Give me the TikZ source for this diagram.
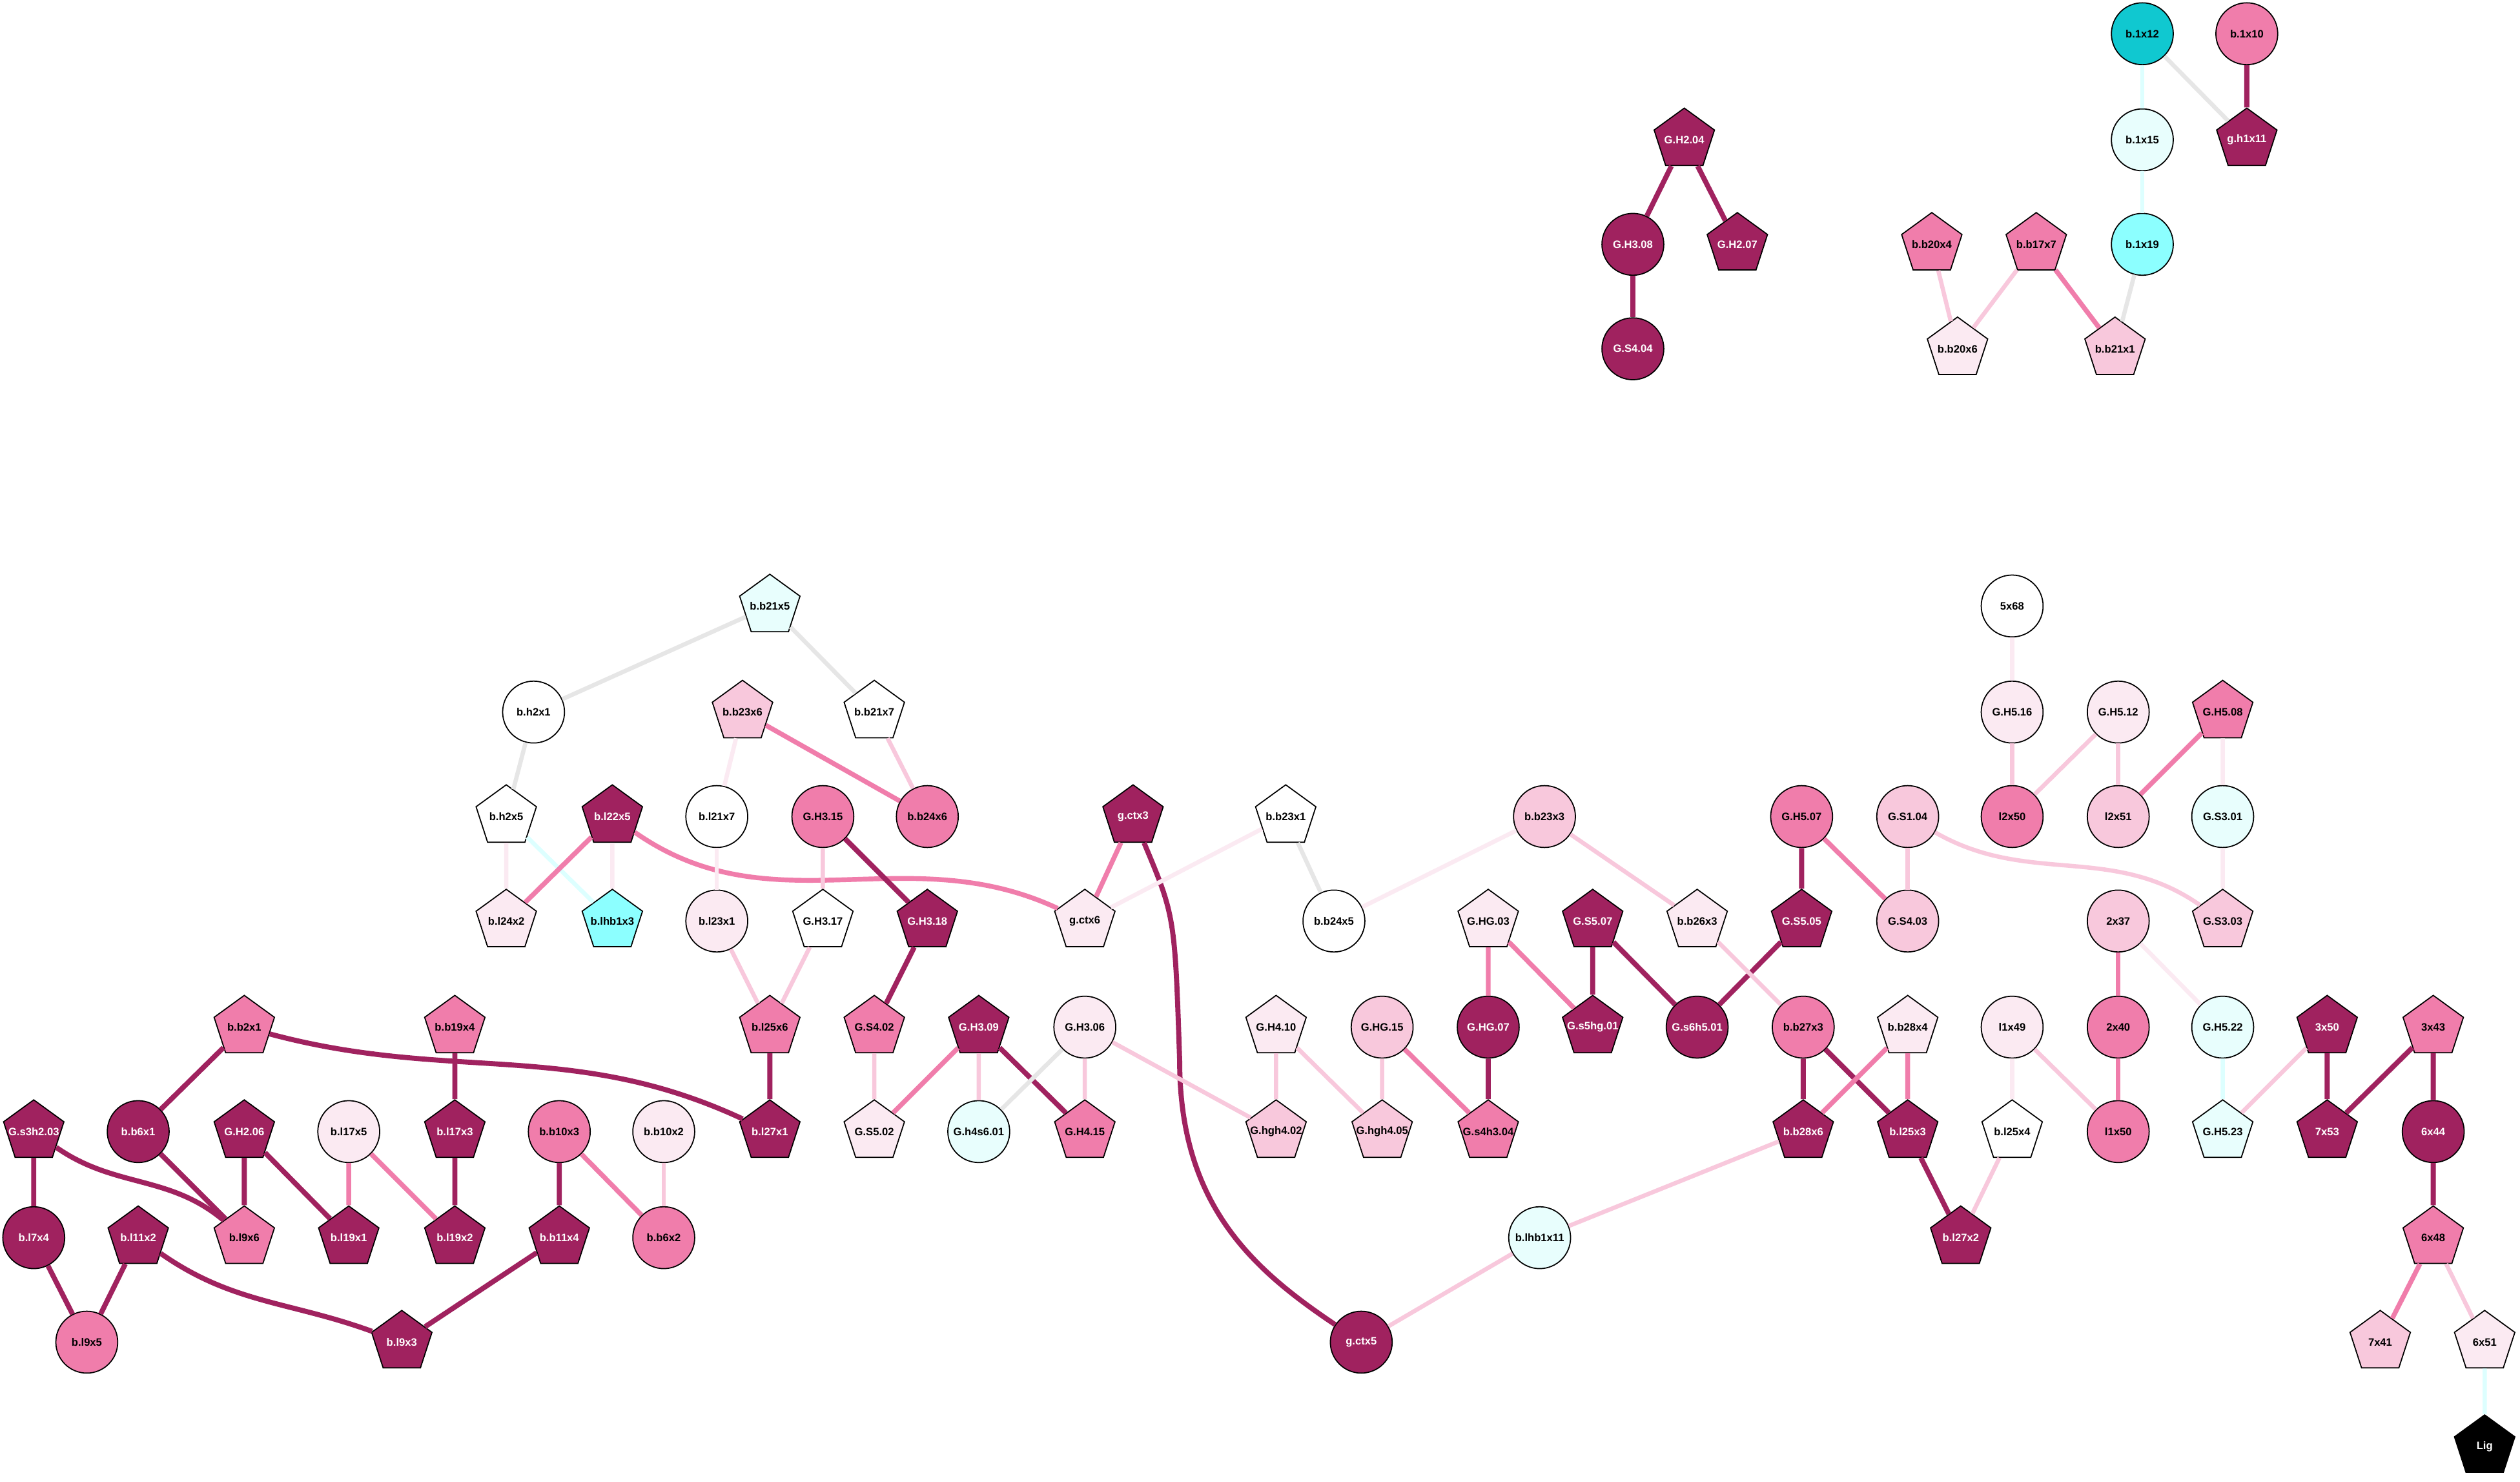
\documentclass[tikz,border=0pt]{standalone}
\usepackage{fontspec}
\setmainfont{Liberation Sans}
\usepackage{tikz}
\usetikzlibrary{shapes.geometric}

\definecolor{cdark}{HTML}{A0225F}
\definecolor{cmid}{HTML}{F07DAB}
\definecolor{clight}{HTML}{F8C8DC}
\definecolor{cvlight}{HTML}{FBEAF2}
\definecolor{ccyan}{HTML}{10C8D0}
\definecolor{ccyanl}{HTML}{8CFFFF}
\definecolor{ccyanvl}{HTML}{E8FEFD}
\definecolor{cgrey}{HTML}{E6E6E6}
\definecolor{ecyan}{HTML}{DDFFFF}

\tikzset{
	lbl/.style={font=\fontsize{3.8}{4}\selectfont\bfseries, inner ysep=0pt, inner xsep=-2.5mm, draw=black, line width=0.4pt},
	circ/.style={lbl, circle, minimum size=0.77cm},
	pent/.style={lbl, regular polygon, regular polygon sides=5, minimum size=0.79cm},
	dk/.style={fill=cdark, text=white},
	md/.style={fill=cmid},
	lt/.style={fill=clight},
	vl/.style={fill=cvlight},
	wh/.style={fill=white},
	cy/.style={fill=ccyan},
	cl/.style={fill=ccyanl},
	cv/.style={fill=ccyanvl},
	e1/.style={draw=cdark, line width=1.8pt},
	e2/.style={draw=cmid, line width=1.7pt},
	e3/.style={draw=clight, line width=1.5pt},
	e4/.style={draw=cvlight, line width=1.5pt},
	eg/.style={draw=cgrey, line width=1.5pt},
	ec/.style={draw=ecyan, line width=1.5pt}
}

\begin{document}
\begin{tikzpicture}[x=0.02cm, y=-0.02cm]
	\fill[white] (0,0) rectangle (1568,922);
	\useasboundingbox (0,0) rectangle (1568,922);

	% top group
	\node[circ, cy] (b1x12) at (1333,21) {b.1x12};
	\node[circ, md] (b1x10) at (1398,21) {b.1x10};
	\node[circ, cv] (b1x15) at (1333,87) {b.1x15};
	\node[pent, dk] (gh1x11) at (1398,87) {g.h1x11};
	\node[circ, cl] (b1x19) at (1333,152) {b.1x19};
	\node[pent, md] (bb20x4) at (1202,152) {b.b20x4};
	\node[pent, md] (bb17x7) at (1267,152) {b.b17x7};
	\node[pent, vl] (bb20x6) at (1218,217) {b.b20x6};
	\node[pent, lt] (bb21x1) at (1316,217) {b.b21x1};
	\node[pent, dk] (gh204) at (1048,87) {G.H2.04};
	\node[circ, dk] (gh308) at (1016,152) {G.H3.08};
	\node[pent, dk] (gh207) at (1081,152) {G.H2.07};
	\node[circ, dk] (gs404) at (1016,217) {G.S4.04};

	% main network
	\node[pent, cv] (bb21x5) at (479,377) {b.b21x5};
	\node[circ, wh] (c5x68) at (1252,377) {5x68};

	\node[circ, wh] (bh2x1) at (332,443) {b.h2x1};
	\node[pent, lt] (bb23x6) at (462,443) {b.b23x6};
	\node[pent, wh] (bb21x7) at (544,443) {b.b21x7};
	\node[circ, vl] (gh516) at (1252,443) {G.H5.16};
	\node[circ, vl] (gh512) at (1318,443) {G.H5.12};
	\node[pent, md] (gh508) at (1383,443) {G.H5.08};

	\node[pent, wh] (bh2x5) at (315,508) {b.h2x5};
	\node[pent, dk] (bl22x5) at (381,508) {b.l22x5};
	\node[circ, wh] (bl21x7) at (446,508) {b.l21x7};
	\node[circ, md] (gh315) at (512,508) {G.H3.15};
	\node[circ, md] (bb24x6) at (577,508) {b.b24x6};
	\node[pent, dk] (gctx3) at (705,508) {g.ctx3};
	\node[pent, wh] (bb23x1) at (800,508) {b.b23x1};
	\node[circ, lt] (bb23x3) at (961,508) {b.b23x3};
	\node[circ, md] (gh507) at (1121,508) {G.H5.07};
	\node[circ, lt] (gs104) at (1187,508) {G.S1.04};
	\node[circ, md] (l2x50) at (1252,508) {l2x50};
	\node[circ, lt] (l2x51) at (1318,508) {l2x51};
	\node[circ, cv] (gs301) at (1383,508) {G.S3.01};

	\node[pent, vl] (bl24x2) at (315,573) {b.l24x2};
	\node[pent, cl] (blhb1x3) at (381,573) {b.lhb1x3};
	\node[circ, vl] (bl23x1) at (446,573) {b.l23x1};
	\node[pent, wh] (gh317) at (512,573) {G.H3.17};
	\node[pent, dk] (gh318) at (577,573) {G.H3.18};
	\node[pent, vl] (gctx6) at (675,573) {g.ctx6};
	\node[circ, wh] (bb24x5) at (830,573) {b.b24x5};
	\node[pent, vl] (ghg03) at (926,573) {G.HG.03};
	\node[pent, dk] (gs507) at (991,573) {G.S5.07};
	\node[pent, vl] (bb26x3) at (1056,573) {b.b26x3};
	\node[pent, dk] (gs505) at (1121,573) {G.S5.05};
	\node[circ, lt] (gs403) at (1187,573) {G.S4.03};
	\node[circ, lt] (c2x37) at (1318,573) {2x37};
	\node[pent, lt] (gs303) at (1383,573) {G.S3.03};

	\node[pent, md] (bb2x1) at (152,639) {b.b2x1};
	\node[pent, md] (bb19x4) at (283,639) {b.b19x4};
	\node[pent, md] (bl25x6) at (479,639) {b.l25x6};
	\node[pent, md] (gs402) at (544,639) {G.S4.02};
	\node[pent, dk] (gh309) at (609,639) {G.H3.09};
	\node[circ, vl] (gh306) at (675,639) {G.H3.06};
	\node[pent, vl] (gh410) at (794,639) {G.H4.10};
	\node[circ, lt] (ghg15) at (860,639) {G.HG.15};
	\node[circ, dk] (ghg07) at (926,639) {G.HG.07};
	\node[pent, dk] (gs5hg01) at (991,639) {G.s5hg.01};
	\node[circ, dk] (gs6h501) at (1056,639) {G.s6h5.01};
	\node[circ, md] (bb27x3) at (1122,639) {b.b27x3};
	\node[pent, vl] (bb28x4) at (1187,639) {b.b28x4};
	\node[circ, vl] (l1x49) at (1252,639) {l1x49};
	\node[circ, md] (c2x40) at (1318,639) {2x40};
	\node[circ, cv] (gh522) at (1383,639) {G.H5.22};
	\node[pent, dk] (c3x50) at (1448,639) {3x50};
	\node[pent, md] (c3x43) at (1514,639) {3x43};

	\node[pent, dk] (gs3h203) at (21,704) {G.s3h2.03};
	\node[circ, dk] (bb6x1) at (86,704) {b.b6x1};
	\node[pent, dk] (gh206) at (152,704) {G.H2.06};
	\node[circ, vl] (bl17x5) at (217,704) {b.l17x5};
	\node[pent, dk] (bl17x3) at (283,704) {b.l17x3};
	\node[circ, md] (bb10x3) at (348,704) {b.b10x3};
	\node[circ, vl] (bb10x2) at (413,704) {b.b10x2};
	\node[pent, dk] (bl27x1) at (479,704) {b.l27x1};
	\node[pent, vl] (gs502) at (544,704) {G.S5.02};
	\node[circ, cv] (gh4s601) at (609,704) {G.h4s6.01};
	\node[pent, md] (gh415) at (675,704) {G.H4.15};
	\node[pent, lt] (ghgh402) at (794,704) {G.hgh4.02};
	\node[pent, lt] (ghgh405) at (860,704) {G.hgh4.05};
	\node[pent, md] (gs4h304) at (926,704) {G.s4h3.04};
	\node[pent, dk] (bb28x6) at (1122,704) {b.b28x6};
	\node[pent, dk] (bl25x3) at (1187,704) {b.l25x3};
	\node[pent, wh] (bl25x4) at (1252,704) {b.l25x4};
	\node[circ, md] (l1x50) at (1318,704) {l1x50};
	\node[pent, cv] (gh523) at (1383,704) {G.H5.23};
	\node[pent, dk] (c7x53) at (1448,704) {7x53};
	\node[circ, dk] (c6x44) at (1514,704) {6x44};

	\node[circ, dk] (bl7x4) at (21,770) {b.l7x4};
	\node[pent, dk] (bl11x2) at (86,770) {b.l11x2};
	\node[pent, md] (bl9x6) at (152,770) {b.l9x6};
	\node[pent, dk] (bl19x1) at (217,770) {b.l19x1};
	\node[pent, dk] (bl19x2) at (283,770) {b.l19x2};
	\node[pent, dk] (bb11x4) at (348,770) {b.b11x4};
	\node[circ, md] (bb6x2) at (413,770) {b.b6x2};
	\node[circ, cv] (blhb1x11) at (958,770) {b.lhb1x11};
	\node[pent, dk] (bl27x2) at (1220,770) {b.l27x2};
	\node[pent, md] (c6x48) at (1514,770) {6x48};

	\node[circ, md] (bl9x5) at (54,835) {b.l9x5};
	\node[pent, dk] (bl9x3) at (250,835) {b.l9x3};
	\node[circ, dk] (gctx5) at (847,835) {g.ctx5};
	\node[pent, lt] (c7x41) at (1481,835) {7x41};
	\node[pent, vl] (c6x51) at (1546,835) {6x51};
	\node[pent, fill=black, text=white] (lig) at (1546,900) {Lig};

	% edges, top group
	\draw[ec] (b1x12) -- (b1x15);
	\draw[eg] (b1x12) -- (gh1x11);
	\draw[e1] (b1x10) -- (gh1x11);
	\draw[ec] (b1x15) -- (b1x19);
	\draw[eg] (b1x19) -- (bb21x1);
	\draw[e3] (bb20x4) -- (bb20x6);
	\draw[e3] (bb17x7) -- (bb20x6);
	\draw[e2] (bb17x7) -- (bb21x1);
	\draw[e1] (gh204) -- (gh308);
	\draw[e1] (gh204) -- (gh207);
	\draw[e1] (gh308) -- (gs404);

	% edges, main network
	\draw[eg] (bb21x5) -- (bh2x1);
	\draw[eg] (bb21x5) -- (bb21x7);
	\draw[eg] (bh2x1) -- (bh2x5);
	\draw[e4] (bb23x6) -- (bl21x7);
	\draw[e2] (bb23x6) -- (bb24x6);
	\draw[e3] (bb21x7) -- (bb24x6);
	\draw[e4] (bh2x5) -- (bl24x2);
	\draw[ec] (bh2x5) -- (blhb1x3);
	\draw[e2] (bl22x5) -- (bl24x2);
	\draw[e4] (bl22x5) -- (blhb1x3);
	\draw[e2] (bl22x5) to[out=-35, in=155] (gctx6);
	\draw[e4] (bl21x7) -- (bl23x1);
	\draw[e3] (gh315) -- (gh317);
	\draw[e1] (gh315) -- (gh318);
	\draw[e2] (gctx3) -- (gctx6);
	\draw[e1] (gctx3) .. controls (731,570) .. (734,660) .. controls (734,750) and (780,790) .. (gctx5);
	\draw[e4] (bb23x1) -- (gctx6);
	\draw[eg] (bb23x1) -- (bb24x5);
	\draw[e4] (bb23x3) -- (bb24x5);
	\draw[e3] (bb23x3) -- (bb26x3);
	\draw[e1] (gh507) -- (gs505);
	\draw[e2] (gh507) -- (gs403);
	\draw[e3] (gs104) -- (gs403);
	\draw[e3] (gs104) to[out=-30, in=145] (gs303);
	\draw[e4] (c5x68) -- (gh516);
	\draw[e3] (gh516) -- (l2x50);
	\draw[e3] (gh512) -- (l2x50);
	\draw[e3] (gh512) -- (l2x51);
	\draw[e2] (gh508) -- (l2x51);
	\draw[e4] (gh508) -- (gs301);
	\draw[e4] (gs301) -- (gs303);
	\draw[e3] (bl23x1) -- (bl25x6);
	\draw[e3] (gh317) -- (bl25x6);
	\draw[e1] (gh318) -- (gs402);
	\draw[e2] (ghg03) -- (ghg07);
	\draw[e2] (ghg03) -- (gs5hg01);
	\draw[e1] (gs507) -- (gs5hg01);
	\draw[e1] (gs507) -- (gs6h501);
	\draw[e1] (gs505) -- (gs6h501);
	\draw[e3] (bb26x3) -- (bb27x3);
	\draw[e2] (c2x37) -- (c2x40);
	\draw[e4] (c2x37) -- (gh522);

	\draw[e1] (bb2x1) -- (bb6x1);
	\draw[e1] (bb2x1) to[out=-15, in=155] (bl27x1);
	\draw[e1] (bb19x4) -- (bl17x3);
	\draw[e1] (bl25x6) -- (bl27x1);
	\draw[e3] (gs402) -- (gs502);
	\draw[e2] (gh309) -- (gs502);
	\draw[e3] (gh309) -- (gh4s601);
	\draw[e1] (gh309) -- (gh415);
	\draw[eg] (gh306) -- (gh4s601);
	\draw[e3] (gh306) -- (gh415);
	\draw[e3] (gh306) -- (ghgh402);
	\draw[e3] (gh410) -- (ghgh402);
	\draw[e3] (gh410) -- (ghgh405);
	\draw[e3] (ghg15) -- (ghgh405);
	\draw[e2] (ghg15) -- (gs4h304);
	\draw[e1] (ghg07) -- (gs4h304);
	\draw[e1] (bb27x3) -- (bb28x6);
	\draw[e1] (bb27x3) -- (bl25x3);
	\draw[e2] (bb28x4) -- (bb28x6);
	\draw[e2] (bb28x4) -- (bl25x3);
	\draw[e3] (bb28x6) -- (blhb1x11);
	\draw[e3] (blhb1x11) -- (gctx5);
	\draw[e1] (bl25x3) -- (bl27x2);
	\draw[e3] (bl25x4) -- (bl27x2);
	\draw[e4] (l1x49) -- (bl25x4);
	\draw[e3] (l1x49) -- (l1x50);
	\draw[e2] (c2x40) -- (l1x50);
	\draw[ec] (gh522) -- (gh523);
	\draw[e3] (c3x50) -- (gh523);
	\draw[e1] (c3x50) -- (c7x53);
	\draw[e1] (c3x43) -- (c7x53);
	\draw[e1] (c3x43) -- (c6x44);
	\draw[e1] (c6x44) -- (c6x48);
	\draw[e2] (c6x48) -- (c7x41);
	\draw[e3] (c6x48) -- (c6x51);
	\draw[ec] (c6x51) -- (lig);

	\draw[e1] (gs3h203) -- (bl7x4);
	\draw[e1] (gs3h203) to[out=-35, in=140] (bl9x6);
	\draw[e1] (bb6x1) -- (bl9x6);
	\draw[e1] (gh206) -- (bl9x6);
	\draw[e1] (gh206) -- (bl19x1);
	\draw[e2] (bl17x5) -- (bl19x1);
	\draw[e2] (bl17x5) -- (bl19x2);
	\draw[e1] (bl17x3) -- (bl19x2);
	\draw[e1] (bb10x3) -- (bb11x4);
	\draw[e2] (bb10x3) -- (bb6x2);
	\draw[e3] (bb10x2) -- (bb6x2);
	\draw[e1] (bl7x4) -- (bl9x5);
	\draw[e1] (bl11x2) -- (bl9x5);
	\draw[e1] (bl11x2) to[out=-35, in=160] (bl9x3);
	\draw[e1] (bb11x4) -- (bl9x3);
\end{tikzpicture}
\end{document}
